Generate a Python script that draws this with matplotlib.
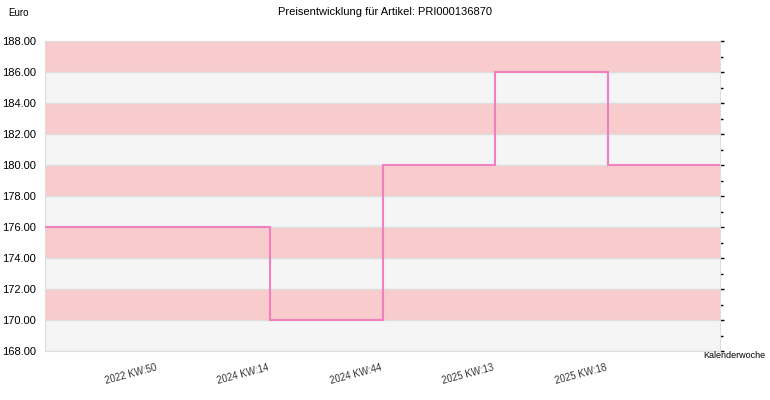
import matplotlib
matplotlib.use("Agg")
import matplotlib.pyplot as plt
import numpy as np
from matplotlib.ticker import MultipleLocator

categories = ["2022 KW:50", "2024 KW:14", "2024 KW:44", "2025 KW:13", "2025 KW:18"]
prices = [176.0, 170.0, 180.0, 186.0, 180.0]
yticks = [168, 170, 172, 174, 176, 178, 180, 182, 184, 186, 188]

plt.rcParams['font.family'] = ['Liberation Sans', 'DejaVu Sans']
fig = plt.figure(figsize=(7.7, 4.0), dpi=100)
ax = fig.add_axes([45/770, 49/400, 675/770, 310/400])

for i, lo in enumerate(yticks[:-1]):
    ax.axhspan(lo, lo + 2, color='#f5f5f5' if i % 2 == 0 else '#f8cccc', lw=0, zorder=0)
for y in yticks:
    ax.axhline(y, color='#dddddd', lw=1, zorder=1)

pos = np.arange(1, len(categories) + 1)
xmax = len(categories) + 1
edges = np.concatenate([[0], pos[1:], [xmax]])
ax.stairs(prices, edges=edges, color='#f080c0', lw=1.5, zorder=3, baseline=None)

ax.set_xlim(0, xmax)
ax.set_ylim(168, 188)
ax.set_xticks(pos)
ax.set_xticklabels(categories, rotation=15, ha='right', fontsize=7, color='#333333')
ax.set_yticks(yticks)
ax.set_yticklabels([f"{v:.2f}" for v in yticks], fontsize=8)
ax.tick_params(axis='x', length=0, pad=8)
ax.tick_params(axis='y', left=False, right=True, labelleft=True, direction='out', length=3, width=1)
ax.yaxis.set_minor_locator(MultipleLocator(1))
ax.tick_params(axis='y', which='minor', left=False, right=True, length=2, width=1)
for s in ax.spines.values():
    s.set_color('#dddddd')

fig.text(0.5, 0.97, "Preisentwicklung für Artikel: PRI000136870", ha='center', va='center', fontsize=8)
fig.text(8/770, 1 - 13/400, "Euro", ha='left', va='center', fontsize=7)
fig.text(765/770, 1 - 356/400, "Kalenderwoche", ha='right', va='center', fontsize=6.5)

fig.savefig("out.png", dpi=100)
